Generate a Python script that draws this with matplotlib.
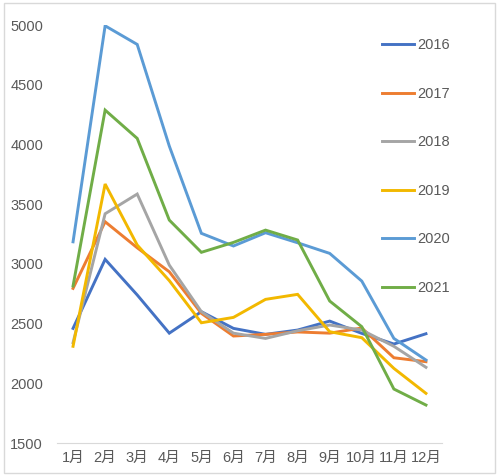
import matplotlib.pyplot as plt
from matplotlib.patches import Rectangle

plt.rcParams['font.family'] = ['Liberation Sans', 'Noto Sans CJK SC']

months = ['1月', '2月', '3月', '4月', '5月', '6月', '7月', '8月', '9月', '10月', '11月', '12月']
years = ['2016', '2017', '2018', '2019', '2020', '2021']
colors = ['#4472C4', '#ED7D31', '#A5A5A5', '#F2B800', '#5B9BD5', '#70AD47']

v2016 = [2460, 3038, 2740, 2420, 2600, 2460, 2410, 2446, 2521, 2418, 2329, 2415]
v2017 = [2795, 3353, 3135, 2934, 2586, 2396, 2410, 2430, 2420, 2463, 2214, 2181]
v2018 = [2340, 3420, 3585, 2990, 2600, 2420, 2376, 2440, 2488, 2446, 2310, 2134]
v2019 = [2310, 3669, 3158, 2860, 2507, 2552, 2703, 2745, 2432, 2382, 2125, 1916]
v2020 = [3185, 4994, 4838, 3987, 3256, 3150, 3261, 3177, 3088, 2856, 2376, 2195]
v2021 = [2815, 4288, 4051, 3367, 3097, 3180, 3283, 3200, 2689, 2474, 1952, 1818]
series = [v2016, v2017, v2018, v2019, v2020, v2021]

text_color = '#595959'

fig = plt.figure(figsize=(5.0, 4.76), dpi=100)
ax = fig.add_axes([0.114, 0.0693, 0.77, 0.878])

x = range(len(months))
for label, vals, c in zip(years, series, colors):
    ax.plot(x, vals, color=c, lw=2.1, label=label, solid_joinstyle='miter')

ax.set_xlim(-0.5, len(months) - 0.5)
ax.set_ylim(1500, 5000)
ax.set_yticks(range(1500, 5001, 500))
ax.set_xticks(list(x))
ax.set_xticklabels(months)

for s in ['top', 'right', 'left']:
    ax.spines[s].set_visible(False)
ax.spines['bottom'].set_color('#D9D9D9')
ax.tick_params(axis='both', length=0, colors=text_color, labelsize=10.5)
ax.tick_params(axis='y', pad=10)
ax.tick_params(axis='x', pad=6)

leg = ax.legend(loc='upper left', bbox_to_anchor=(0.809, 1.0), frameon=False,
                fontsize=10.5, handlelength=2.25, handletextpad=0.2,
                labelspacing=2.37)
for t in leg.get_texts():
    t.set_color(text_color)

fig.patches.append(Rectangle((0.008, 0.006), 0.982, 0.988, transform=fig.transFigure,
                             fill=False, edgecolor='#D9D9D9', lw=1))

fig.savefig('out.png', dpi=100)
